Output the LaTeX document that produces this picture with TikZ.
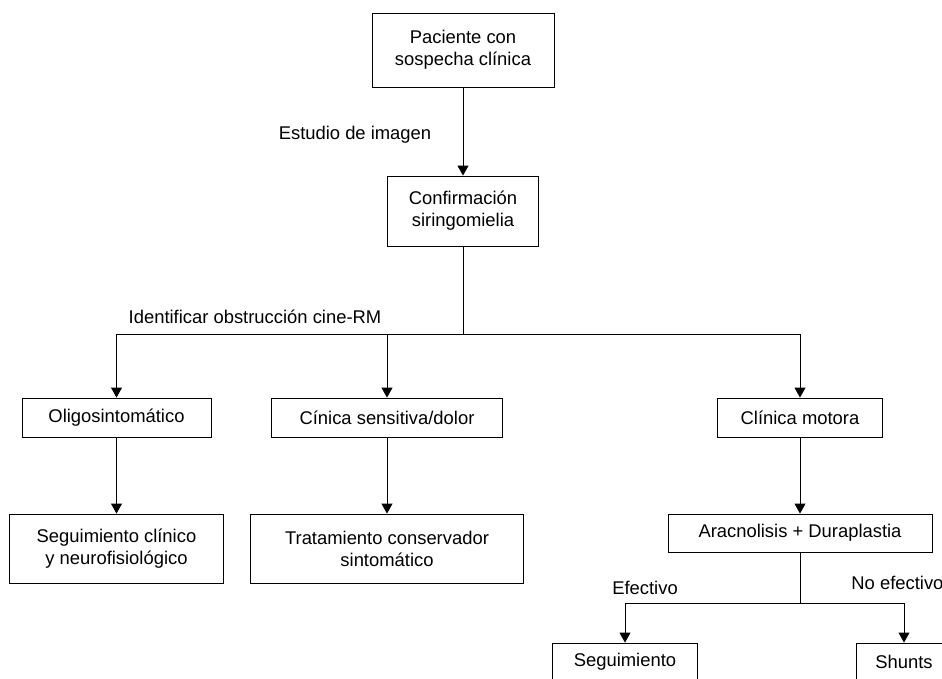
\documentclass[tikz,border=0pt]{standalone}
\usepackage{fontspec}
\setmainfont{Liberation Sans}
\usetikzlibrary{arrows.meta}

\begin{document}
\begin{tikzpicture}
        [x=1pt,y=-1pt,line width=0.9pt,
        caja/.style={draw, fill=white, align=center, inner sep=0pt,
        font=\fontsize{18.4}{22}\selectfont},
        etiqueta/.style={font=\fontsize{18.4}{22}\selectfont, inner sep=0pt},
        flecha/.style={-{Triangle[width=11pt,length=10pt]}}]
        \clip (0,0) rectangle (942,678);
        %-----cajas
         \node[caja, minimum width=182pt, minimum height=74pt]  (pac) at (463,50) {Paciente con\\sospecha clínica};
         \node[caja, minimum width=151pt, minimum height=70pt]  (conf) at (463,211) {Confirmación\\siringomielia};
         \node[caja, minimum width=189pt, minimum height=39pt]  (oligo) at (116.5,417.5) {Oligosintomático};
         \node[caja, minimum width=231pt, minimum height=39pt]  (sens) at (387,417.5) {Cínica sensitiva/dolor};
         \node[caja, minimum width=165pt, minimum height=39pt]  (motora) at (800,417.5) {Clínica motora};
         \node[caja, minimum width=214pt, minimum height=69pt]  (segcli) at (116.5,548.5) {Seguimiento clínico\\y neurofisiológico};
         \node[caja, minimum width=273pt, minimum height=69pt]  (trat) at (387,548.5) {Tratamiento conservador\\sintomático};
         \node[caja, minimum width=264pt, minimum height=38pt]  (arac) at (800,533) {Aracnolisis + Duraplastia};
         \node[caja, minimum width=145pt, minimum height=38pt]  (seg) at (625,662) {Seguimiento};
         \node[caja, minimum width=96pt, minimum height=38pt]  (shunts) at (904,662) {Shunts};
        %-----etiquetas
         \node[etiqueta]  (estudio) at (355,135) {Estudio de imagen};
         \node[etiqueta]  (identif) at (255,317) {Identificar obstrucción cine-RM};
         \node[etiqueta]  (efect) at (645,588) {Efectivo};
         \node[etiqueta, anchor=west]  (noefect) at (851,583) {No efectivo};
         \coordinate (j1) at (463,334);
         \coordinate (j2) at (800,603);

         \foreach \from/\to in {pac/conf,oligo/segcli,sens/trat,motora/arac}
         \draw[flecha] (\from) -- (\to);
         \draw (conf) -- (j1);
         \draw (arac) -- (j2);
         \foreach \to in {oligo,sens,motora}
         \draw[flecha] (j1) -| (\to);
         \foreach \to in {seg,shunts}
         \draw[flecha] (j2) -| (\to);

        \end{tikzpicture}
\end{document}
